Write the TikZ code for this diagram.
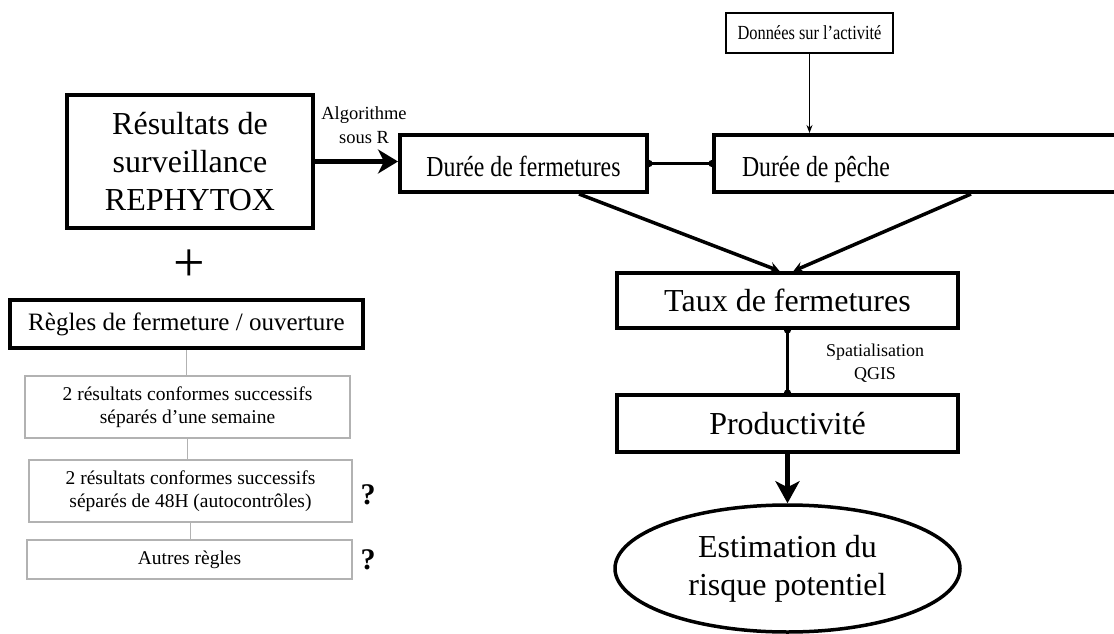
\documentclass[tikz,border=0pt]{standalone}
\usepackage{fontspec}
\setmainfont{Liberation Serif}
\newfontfamily\condfont[FakeStretch=0.82]{Liberation Serif}
\usetikzlibrary{arrows.meta,shapes.geometric}
\begin{document}
\begin{tikzpicture}[x=1pt,y=-1pt,
  thickbox/.style={draw,line width=4pt,rectangle,inner sep=0pt,align=center},
  greybox/.style={draw=black!30,line width=1.2pt,rectangle,inner sep=0pt,align=center,font=\fontsize{19.5}{23}\selectfont},
  greyline/.style={draw=black!30,line width=1.5pt},
  lbl/.style={align=center,inner sep=0pt},
  qm/.style={font=\fontsize{30}{30}\selectfont\bfseries,inner sep=0pt},
  dotline/.style={line width=2.5pt,{Circle[length=7pt]}-{Circle[length=7pt]},shorten <=-3.5pt,shorten >=-3.5pt},
  bigtext/.style={font=\fontsize{32}{38}\selectfont},
  durtext/.style={font=\condfont\fontsize{29}{34}\selectfont,text height=29pt,text depth=3pt}
]
\useasboundingbox (0,0) rectangle (1114,634);

% left column
\node[thickbox,bigtext,minimum width=246,minimum height=133] (res) at (190,161.5) {Résultats de\\surveillance\\REPHYTOX};
\node[font=\fontsize{56}{56}\selectfont,inner sep=0pt] (plus) at (189,266) {+};
\node[thickbox,minimum width=353,minimum height=48,font=\fontsize{25}{30}\selectfont] (regles) at (186.5,324) {Règles de fermeture / ouverture};
\node[greybox,minimum width=325,minimum height=62] (r1) at (187.5,407) {2 résultats conformes successifs\\séparés d’une semaine};
\node[greybox,minimum width=323,minimum height=62] (r2) at (190.5,491) {2 résultats conformes successifs\\séparés de 48H (autocontrôles)};
\node[greybox,minimum width=325,minimum height=39] (r3) at (189.5,559.5) {Autres règles};
\node[qm] (q1) at (368,495) {?};
\node[qm] (q2) at (368,560) {?};

\draw[greyline] (regles.south) -- (regles.south |- r1.north);
\draw[greyline] (r1.south) -- (r1.south |- r2.north);
\draw[greyline] (r2.south) -- (r2.south |- r3.north);

% right column
\node[draw,line width=1.3pt,minimum width=167,minimum height=40,inner sep=0pt,font=\condfont\fontsize{20}{24}\selectfont] (don) at (809.5,33) {Données sur l’activité};
\node[thickbox,durtext,minimum width=247,minimum height=57] (df) at (523.5,163.5) {Durée de fermetures};
\node[thickbox,durtext,anchor=west,inner xsep=28,minimum height=57] (dp) at (712,163.5) {\makebox[354pt][l]{Durée de pêche}};
\node[thickbox,bigtext,minimum width=341,minimum height=55] (taux) at (787.5,300.5) {Taux de fermetures};
\node[thickbox,bigtext,minimum width=341,minimum height=57] (prod) at (787.5,423.5) {Productivité};
\node[draw,ellipse,line width=3.5pt,minimum width=345,minimum height=127,inner sep=0pt,align=center,bigtext] (est) at (787.5,568.5) {Estimation du\\risque potentiel};

% labels
\node[lbl,font=\fontsize{18.5}{24}\selectfont] (alg) at (364,125) {Algorithme\\sous R};
\node[lbl,font=\fontsize{18}{23}\selectfont] (spat) at (875,363) {Spatialisation\\QGIS};

% connectors
\draw[line width=5.5pt,-{Stealth[length=20pt,width=24pt,inset=6pt]}] (res.east) -- (res.east -| df.west);
\draw[dotline] (df.east) -- (dp.west);
\draw[line width=1pt,-{Stealth[length=8pt,width=6pt]}] (don.south) -- (don.south |- dp.north);
\draw[line width=3.5pt,-{Stealth[length=10pt,width=11pt,inset=4pt]}] ([xshift=-70pt]df.south east) -- ([xshift=-8pt]taux.north);
\draw[line width=3.5pt,-{Stealth[length=10pt,width=11pt,inset=4pt]}] ([xshift=259pt]dp.south west) -- ([xshift=6pt]taux.north);
\draw[dotline] (taux.south) -- (prod.north);
\draw[line width=5.5pt,-{Stealth[length=22pt,width=24pt,inset=6pt]}] (prod.south) -- (est.north);
\end{tikzpicture}
\end{document}
